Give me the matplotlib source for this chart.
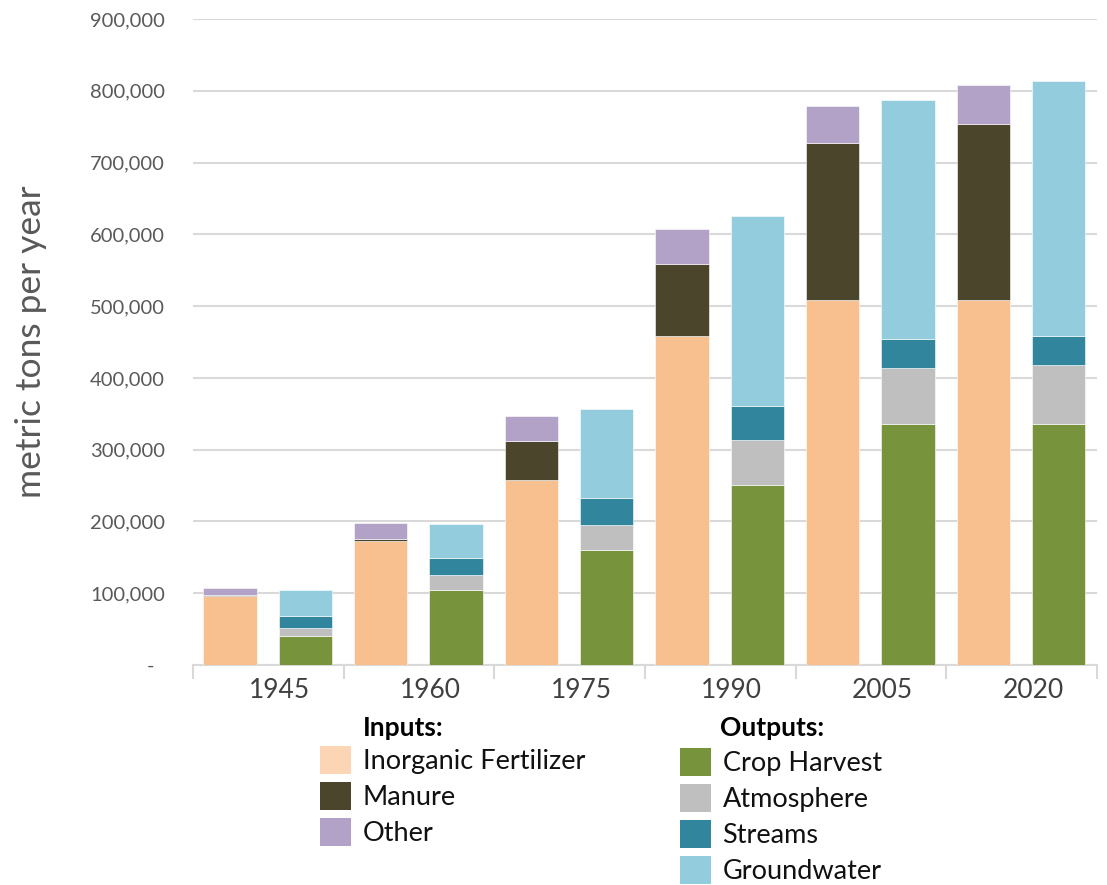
import matplotlib.pyplot as plt
import numpy as np
from matplotlib.patches import Patch
from matplotlib.ticker import FuncFormatter, FixedLocator

plt.rcParams["font.family"] = ["Lato", "DejaVu Sans"]

years = ["1945", "1960", "1975", "1990", "2005", "2020"]

# inputs (metric tons per year)
fertilizer = [96000, 173000, 258000, 459000, 508000, 508000]
manure = [2000, 2500, 54000, 99000, 219000, 246000]
other = [9000, 22500, 35000, 50000, 52000, 54000]

# outputs (metric tons per year)
crop_harvest = [41000, 105000, 160000, 251000, 336000, 336000]
atmosphere = [11000, 20000, 35000, 62000, 78000, 82000]
streams = [16000, 24000, 38000, 48000, 40000, 41000]
groundwater = [36000, 48000, 123000, 265000, 333000, 354000]

inputs = [("Inorganic Fertilizer", fertilizer, "#F9C08F"),
          ("Manure", manure, "#4B452C"),
          ("Other", other, "#B3A2C7")]
outputs = [("Crop Harvest", crop_harvest, "#77933C"),
           ("Atmosphere", atmosphere, "#BFBFBF"),
           ("Streams", streams, "#31859C"),
           ("Groundwater", groundwater, "#93CDDD")]
legend_colors = {"Inorganic Fertilizer": "#FCD5B4"}

fig = plt.figure(figsize=(11.07, 8.85), dpi=100)
ax = fig.add_axes([193 / 1107, 1 - 665 / 885, 904 / 1107, 646 / 885])

x = np.arange(len(years))
width = 0.355


def stack(groups, offset):
    bottom = np.zeros(len(years))
    for name, vals, color in groups:
        vals = np.array(vals, dtype=float)
        ax.bar(x + offset, vals, width, bottom=bottom, color=color,
               edgecolor="white", linewidth=0.4, zorder=3)
        bottom += vals


stack(inputs, -0.255)
stack(outputs, 0.245)

ax.set_xlim(-0.5, len(years) - 0.5)
ax.set_ylim(0, 900000)
ax.set_yticks(np.arange(0, 900001, 100000))
ax.yaxis.set_major_formatter(FuncFormatter(lambda v, p: "-  " if v == 0 else f"{v:,.0f}"))
ax.grid(axis="y", color="#D9D9D9", linewidth=1.5, zorder=0)

# year labels sit a bit right of the group centre, boundary ticks between groups
ax.xaxis.set_major_locator(FixedLocator(x + 0.075))
ax.set_xticklabels(years)
ax.xaxis.set_minor_locator(FixedLocator(np.arange(-0.5, len(years), 1.0)))
ax.tick_params(axis="x", which="major", length=0, pad=9, labelsize=19, labelcolor="#404040")
ax.tick_params(axis="x", which="minor", length=10, width=1.5, color="#D9D9D9")
ax.tick_params(axis="y", length=0, pad=20, labelsize=14.5, labelcolor="#595959")

for s in ["top", "right", "left"]:
    ax.spines[s].set_visible(False)
ax.spines["bottom"].set_color("#D9D9D9")
ax.spines["bottom"].set_linewidth(1.5)

ax.set_ylabel("metric tons per year", fontsize=25.5, color="#595959")
ax.yaxis.set_label_coords(-0.1615, 0.5)

# two-column legend with bold headers
def make_legend(groups, anchor):
    handles = [Patch(facecolor=legend_colors.get(n, c), edgecolor="none", label=n)
               for n, _, c in groups]
    leg = fig.legend(handles=handles, loc="upper left", bbox_to_anchor=anchor,
                     frameon=False, fontsize=19.5, handlelength=1.15, handleheight=1.2,
                     handletextpad=0.42, labelspacing=0.3, borderpad=0, borderaxespad=0)
    for t in leg.get_texts():
        t.set_color("#111111")
    return leg


make_legend(inputs, (320 / 1107, 1 - 746 / 885))
make_legend(outputs, (680 / 1107, 1 - 748 / 885))
fig.text(363 / 1107, 1 - 728 / 885, "Inputs:", fontsize=19, fontweight="bold", va="center")
fig.text(720 / 1107, 1 - 728 / 885, "Outputs:", fontsize=19, fontweight="bold", va="center")

fig.savefig("out.png", dpi=100)
